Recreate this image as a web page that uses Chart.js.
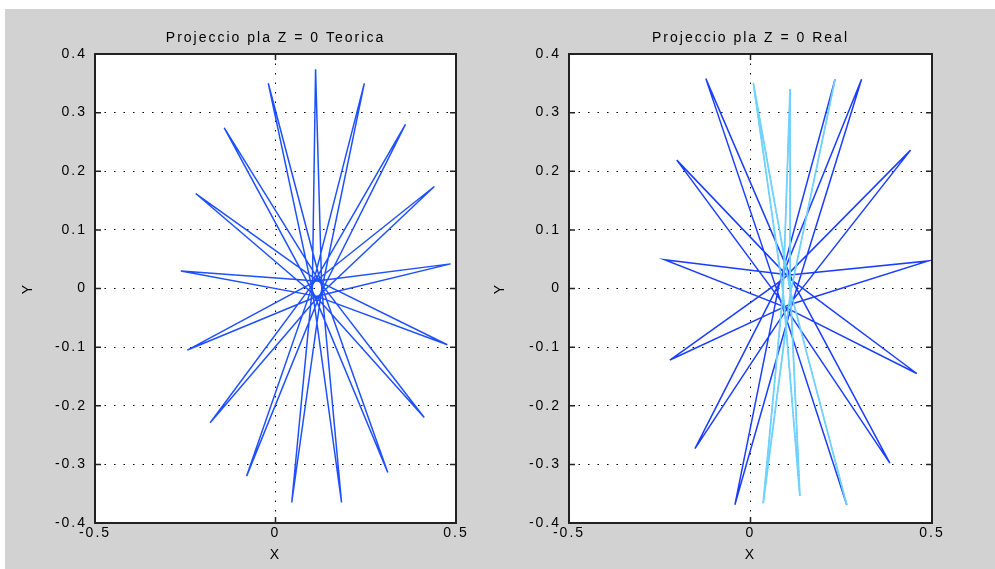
<!DOCTYPE html>
<html>
<head>
<meta charset="utf-8">
<script src="https://cdn.jsdelivr.net/npm/chart.js@4.4.1/dist/chart.umd.min.js"></script>
<style>
  body { margin: 0; background: #fff; }
  #fig { position: absolute; left: 5px; top: 9px; width: 990px; height: 560px; background: #d2d2d2; }
  canvas { position: absolute; top: 0; }
</style>
</head>
<body>
<div id="fig"></div>
<canvas id="teorica" width="490" height="569" style="left:0"></canvas>
<canvas id="real" width="515" height="569" style="left:480px"></canvas>
<script>
// axis ticks
const xTicks = [-0.5, 0, 0.5];
const yTicks = [-0.4, -0.3, -0.2, -0.1, 0, 0.1, 0.2, 0.3, 0.4];

// teorica trajectory (tip -> near centre -> tip ...)
const teoricaX = [0.485, 0.115, -0.262, 0.113, 0.476, 0.1195, -0.221, 0.108, 0.412, 0.124, -0.142, 0.105, 0.311, 0.127, -0.02, 0.1025, 0.183, 0.128, 0.111, 0.102, 0.045, 0.1275, 0.246, 0.103, -0.08, 0.1255, 0.36, 0.106, -0.181, 0.122, 0.44, 0.110, -0.244, 0.1176, 0.485];
const teoricaY = [0.042, 0.013, 0.03, -0.013, -0.096, 0.012, 0.162, -0.011, -0.22, 0.010, 0.274, -0.008, -0.314, 0.006, 0.35, -0.004, -0.365, 0.001, 0.374, 0.001, -0.365, -0.0035, 0.35, 0.0057, -0.32, -0.0077, 0.28, 0.0095, -0.229, -0.011, 0.174, 0.012, -0.105, -0.0127, 0.042];

// real trajectory, wide spokes (solid blue)
const realBlueX = [0.233, 0.078, -0.043, 0.12, 0.306, 0.08, -0.153, 0.114, 0.441, 0.09, -0.222, 0.105, 0.49, 0.108, -0.237, 0.092, 0.458, 0.11, -0.203, 0.085, 0.384, 0.118, -0.123, 0.08, 0.265];
const realBlueY = [0.357, 0.004, -0.369, -0.015, 0.357, 0.01, -0.273, -0.022, 0.236, 0.016, -0.122, -0.028, 0.047, 0.023, 0.049, -0.031, -0.145, 0.016, 0.219, -0.022, -0.298, 0.01, 0.358, -0.016, -0.369];

// real trajectory, near vertical spokes (cyan dotted)
const realCyanX = [0.265, 0.109, 0.008, 0.09, 0.136, 0.11, 0.109, 0.09, 0.035, 0.11, 0.233];
const realCyanY = [-0.369, -0.002, 0.35, -0.007, -0.354, -0.005, 0.34, -0.004, -0.366, -0.008, 0.357];

const pts = (xs, ys) => xs.map((v, i) => ({ x: v, y: ys[i] }));
const font = { family: "'Liberation Sans', Arial, sans-serif", size: 14 };
const fmt = v => Math.abs(v) < 1e-9 ? '0' : String(Number(v.toFixed(1)));

const frame = {
    id: 'frame',
    beforeDraw(chart) {
        const { ctx, chartArea: a } = chart;
        ctx.save();
        ctx.fillStyle = '#fff';
        ctx.fillRect(a.left, a.top, a.right - a.left, a.bottom - a.top);
        ctx.restore();
        ctx.letterSpacing = '2px';
    },
    afterDraw(chart) {
        const { ctx, chartArea: a, scales: { x, y } } = chart;
        ctx.save();
        ctx.strokeStyle = '#222';
        ctx.lineWidth = 2;
        ctx.strokeRect(a.left, a.top, a.right - a.left, a.bottom - a.top);
        ctx.lineWidth = 1.5;
        ctx.beginPath();
        y.ticks.forEach(t => {
            const p = y.getPixelForValue(t.value);
            ctx.moveTo(a.left, p); ctx.lineTo(a.left + 6, p);
            ctx.moveTo(a.right, p); ctx.lineTo(a.right - 6, p);
        });
        x.ticks.forEach(t => {
            const p = x.getPixelForValue(t.value);
            ctx.moveTo(p, a.bottom); ctx.lineTo(p, a.bottom - 6);
            ctx.moveTo(p, a.top); ctx.lineTo(p, a.top + 6);
        });
        ctx.stroke();
        ctx.restore();
    }
};

function makeChart(id, title, datasets, yWidth, yTitlePad, rightPad) {
    return new Chart(document.getElementById(id), {
        type: 'scatter',
        data: { datasets },
        plugins: [frame],
        options: {
            responsive: false,
            animation: false,
            layout: { padding: { left: 0, right: rightPad, top: 0, bottom: 0 } },
            plugins: {
                legend: { display: false },
                tooltip: { enabled: false },
                title: {
                    display: true, text: title, fullSize: false,
                    color: '#000', font: { ...font, weight: 'normal' },
                    padding: { top: 29.6, bottom: 7.6 }
                }
            },
            scales: {
                x: {
                    min: -0.5, max: 0.5,
                    afterBuildTicks: s => { s.ticks = xTicks.map(v => ({ value: v })); },
                    afterFit: s => { s.height = 46; },
                    ticks: { color: '#000', font, padding: 2, callback: fmt, maxRotation: 0 },
                    grid: { color: '#000', lineWidth: 1, drawTicks: false },
                    border: { display: false, dash: [1.5, 8] },
                    title: { display: true, text: 'X', color: '#000', font, padding: { top: 0, bottom: 5.6 } }
                },
                y: {
                    min: -0.4, max: 0.4,
                    afterBuildTicks: s => { s.ticks = yTicks.map(v => ({ value: v })); },
                    afterFit: s => { s.width = yWidth; },
                    ticks: { color: '#000', font, padding: 8, callback: fmt },
                    grid: { color: '#000', lineWidth: 1, drawTicks: false },
                    border: { display: false, dash: [1.5, 8] },
                    title: { display: true, text: 'Y', color: '#000', font, padding: { top: yTitlePad, bottom: 0 } }
                }
            }
        }
    });
}

makeChart('teorica', 'Projeccio pla Z = 0 Teorica', [
    { data: pts(teoricaX, teoricaY), showLine: true, borderColor: '#1e50ff', borderWidth: 1.5, pointRadius: 0, tension: 0 }
], 95, 19.6, 34);

makeChart('real', 'Projeccio pla Z = 0 Real', [
    { data: pts(realCyanX, realCyanY), showLine: true, borderColor: '#6fd2ff', borderWidth: 1.8, pointRadius: 0, tension: 0 },
    { data: pts(realCyanX, realCyanY), showLine: true, borderColor: '#1a3dff', borderWidth: 1, borderDash: [1.5, 2], pointRadius: 0, tension: 0 },
    { data: pts(realBlueX, realBlueY), showLine: true, borderColor: '#1a3dff', borderWidth: 1.5, pointRadius: 0, tension: 0 }
], 89, 11.6, 63);
</script>
</body>
</html>
